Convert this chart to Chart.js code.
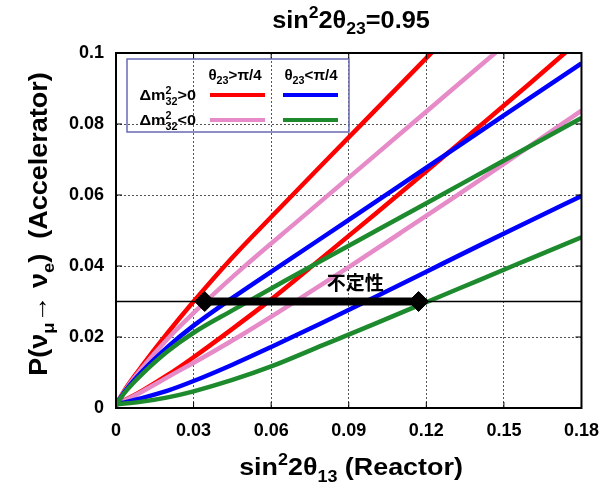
<!DOCTYPE html>
<html>
<head>
<meta charset="utf-8">
<script src="https://cdn.jsdelivr.net/npm/chart.js@4.4.1/dist/chart.umd.min.js"></script>
<style>
  html, body { margin: 0; padding: 0; background: #fff; }
  canvas { display: block; }
</style>
</head>
<body>
<canvas id="chart" width="611" height="486"></canvas>
<script>
// tick labels
const xTickLabels = ["0", "0.03", "0.06", "0.09", "0.12", "0.15", "0.18"];
const yTickLabels = ["0", "0.02", "0.04", "0.06", "0.08", "0.1"];

// dm2>0, theta23>pi/4 (red)
const redUpX = [0, 0.004, 0.01, 0.02, 0.03, 0.045, 0.06, 0.08, 0.1, 0.125];
const redUpY = [0.001, 0.0058, 0.0118, 0.0212, 0.03, 0.0424, 0.0538, 0.0688, 0.0837, 0.1023];
const redLowX = [0, 0.005, 0.01, 0.02, 0.03, 0.045, 0.06, 0.08, 0.1, 0.12, 0.14, 0.16, 0.174];
const redLowY = [0.001, 0.0028, 0.0048, 0.0093, 0.0143, 0.0223, 0.0306, 0.0425, 0.0545, 0.0667, 0.079, 0.0914, 0.1003];

// dm2<0, theta23>pi/4 (pink)
const pinkUpX = [0, 0.004, 0.01, 0.02, 0.035, 0.05, 0.07, 0.09, 0.11, 0.13, 0.15];
const pinkUpY = [0.001, 0.0055, 0.0112, 0.0195, 0.0302, 0.0401, 0.0525, 0.0649, 0.0773, 0.0897, 0.1021];
const pinkLowX = [0, 0.005, 0.01, 0.02, 0.035, 0.05, 0.07, 0.09, 0.11, 0.13, 0.15, 0.18];
const pinkLowY = [0.001, 0.0027, 0.0046, 0.0087, 0.0148, 0.0212, 0.0303, 0.0397, 0.0493, 0.059, 0.0688, 0.0838];

// dm2>0, theta23<pi/4 (blue)
const blueUpX = [0, 0.004, 0.01, 0.02, 0.03, 0.045, 0.065, 0.09, 0.12, 0.15, 0.18];
const blueUpY = [0.001, 0.0052, 0.0102, 0.0172, 0.0232, 0.031, 0.0408, 0.053, 0.0677, 0.0824, 0.0971];
const blueLowX = [0, 0.01, 0.02, 0.03, 0.045, 0.06, 0.08, 0.1, 0.12, 0.14, 0.16, 0.18];
const blueLowY = [0.001, 0.0028, 0.0049, 0.0076, 0.0122, 0.0172, 0.0241, 0.0312, 0.0384, 0.0456, 0.0527, 0.0597];

// dm2<0, theta23<pi/4 (green)
const greenUpX = [0, 0.004, 0.01, 0.02, 0.03, 0.045, 0.065, 0.09, 0.12, 0.15, 0.18];
const greenUpY = [0.001, 0.0049, 0.0095, 0.016, 0.0212, 0.0275, 0.0357, 0.0457, 0.0577, 0.0697, 0.0817];
const greenLowX = [0, 0.01, 0.02, 0.03, 0.045, 0.06, 0.08, 0.1, 0.12, 0.14, 0.16, 0.18];
const greenLowY = [0.001, 0.0018, 0.003, 0.0047, 0.0079, 0.0117, 0.0177, 0.0237, 0.0298, 0.0359, 0.042, 0.0481];

// uncertainty arrow + reference line
const arrowX = [0.0343, 0.117];
const arrowY = [0.03, 0.03];
const refLineX = [0, 0.18];
const refLineY = [0.03, 0.03];
const noteText = "不定性";
const noteX = 0.0925;
const noteY = 0.0352;

const FONT = '"Liberation Sans", Arial, sans-serif';
const RED = "#ff0000", PINK = "#e68ac8", BLUE = "#0000ff", GREEN = "#1e8a2e";

function toPoints(xs, ys) {
    return xs.map((x, i) => ({ x: x, y: ys[i] }));
}

function curve(xs, ys, color, order) {
    return {
        data: toPoints(xs, ys),
        borderColor: color,
        borderWidth: 4.5,
        pointRadius: 0,
        cubicInterpolationMode: "monotone",
        order: order
    };
}

// parts: [text, kind] kind: "n" normal, "sup", "sub", "ss" (sup over sub, text "a|b")
function richWidth(ctx, parts, size) {
    let w = 0;
    parts.forEach(([t, k]) => {
        if (k === "n") {
            ctx.font = "bold " + size + "px " + FONT;
            w += ctx.measureText(t).width;
        } else {
            ctx.font = "bold " + Math.round(size * 0.68) + "px " + FONT;
            if (k === "ss") {
                const [a, b] = t.split("|");
                w += Math.max(ctx.measureText(a).width, ctx.measureText(b).width);
            } else {
                w += ctx.measureText(t).width;
            }
        }
    });
    return w;
}

function drawRich(ctx, parts, x, y, size, align, sx) {
    sx = sx || 1;
    const total = richWidth(ctx, parts, size);
    let cx = align === "center" ? -total / 2 : align === "right" ? -total : 0;
    ctx.save();
    ctx.translate(x, y);
    ctx.scale(sx, 1);
    ctx.textAlign = "left";
    ctx.textBaseline = "alphabetic";
    const small = Math.round(size * 0.68);
    parts.forEach(([t, k]) => {
        if (k === "n") {
            ctx.font = "bold " + size + "px " + FONT;
            ctx.fillText(t, cx, 0);
            cx += ctx.measureText(t).width;
        } else {
            ctx.font = "bold " + small + "px " + FONT;
            if (k === "sup") {
                ctx.fillText(t, cx, -size * 0.42);
                cx += ctx.measureText(t).width;
            } else if (k === "sub") {
                ctx.fillText(t, cx, size * 0.28);
                cx += ctx.measureText(t).width;
            } else {
                const [a, b] = t.split("|");
                ctx.fillText(a, cx, -size * 0.42);
                ctx.fillText(b, cx, size * 0.3);
                cx += Math.max(ctx.measureText(a).width, ctx.measureText(b).width);
            }
        }
    });
    ctx.restore();
}

const decorPlugin = {
    id: "decor",
    afterDatasetsDraw(chart) {
        const { ctx, chartArea: a, scales } = chart;
        const xs = scales.x, ys = scales.y;
        ctx.save();

        // frame
        ctx.strokeStyle = "#000";
        ctx.lineWidth = 2;
        ctx.setLineDash([]);
        ctx.strokeRect(a.left, a.top, a.right - a.left, a.bottom - a.top);

        // inward ticks on all sides
        ctx.lineWidth = 1;
        xTickLabels.forEach((_, i) => {
            const px = xs.getPixelForValue(i * 0.03);
            ctx.beginPath();
            ctx.moveTo(px, a.bottom); ctx.lineTo(px, a.bottom - 6);
            ctx.moveTo(px, a.top); ctx.lineTo(px, a.top + 6);
            ctx.stroke();
        });
        yTickLabels.forEach((_, i) => {
            const py = ys.getPixelForValue(i * 0.02);
            ctx.beginPath();
            ctx.moveTo(a.left, py); ctx.lineTo(a.left + 6, py);
            ctx.moveTo(a.right, py); ctx.lineTo(a.right - 6, py);
            ctx.stroke();
        });

        // note
        ctx.fillStyle = "#000";
        ctx.font = 'bold 19px "Noto Sans CJK JP", sans-serif';
        ctx.textAlign = "center";
        ctx.textBaseline = "middle";
        ctx.fillText(noteText, xs.getPixelForValue(noteX), ys.getPixelForValue(noteY));

        // legend box
        ctx.strokeStyle = "#6a6ab4";
        ctx.lineWidth = 1.5;
        ctx.strokeRect(127, 59, 222, 73);
        ctx.fillStyle = "#000";
        drawRich(ctx, [["θ", "n"], ["23", "sub"], [">π/4", "n"]], 235, 80, 14, "center", 1.08);
        drawRich(ctx, [["θ", "n"], ["23", "sub"], ["<π/4", "n"]], 311, 80, 14, "center", 1.08);
        drawRich(ctx, [["Δm", "n"], ["2|32", "ss"], [">0", "n"]], 196, 100, 15, "right", 1.08);
        drawRich(ctx, [["Δm", "n"], ["2|32", "ss"], ["<0", "n"]], 196, 125, 15, "right", 1.08);
        const samples = [[RED, 210, 95], [BLUE, 283, 95], [PINK, 210, 120], [GREEN, 283, 120]];
        ctx.lineWidth = 4;
        samples.forEach(([c, x0, y0]) => {
            ctx.strokeStyle = c;
            ctx.beginPath();
            ctx.moveTo(x0, y0);
            ctx.lineTo(x0 + 55, y0);
            ctx.stroke();
        });

        ctx.restore();
    },
    afterDraw(chart) {
        const { ctx } = chart;
        ctx.save();
        ctx.fillStyle = "#000";
        // title
        drawRich(ctx, [["sin", "n"], ["2", "sup"], ["2θ", "n"], ["23", "sub"], ["=0.95", "n"]], 351, 28, 23, "center", 1.1);
        // x title
        drawRich(ctx, [["sin", "n"], ["2", "sup"], ["2θ", "n"], ["13", "sub"], [" (Reactor)", "n"]], 351, 475, 24, "center", 1.12);
        // y title
        ctx.translate(47, 224);
        ctx.rotate(-Math.PI / 2);
        drawRich(ctx, [["P(ν", "n"], ["μ", "sub"], ["→ ν", "n"], ["e", "sub"], [")  (Accelerator)", "n"]], 0, 0, 25, "center", 1.08);
        ctx.restore();
    }
};

new Chart(document.getElementById("chart").getContext("2d"), {
    type: "line",
    data: {
        datasets: [
            {
                data: toPoints(arrowX, arrowY),
                borderColor: "#000",
                backgroundColor: "#000",
                borderWidth: 8,
                pointStyle: "rectRot",
                pointRadius: 10,
                pointBorderWidth: 1,
                order: 0
            },
            {
                data: toPoints(refLineX, refLineY),
                borderColor: "#000",
                borderWidth: 1.5,
                pointRadius: 0,
                order: 1
            },
            curve(greenUpX, greenUpY, GREEN, 2),
            curve(greenLowX, greenLowY, GREEN, 2),
            curve(blueUpX, blueUpY, BLUE, 3),
            curve(blueLowX, blueLowY, BLUE, 3),
            curve(pinkUpX, pinkUpY, PINK, 4),
            curve(pinkLowX, pinkLowY, PINK, 4),
            curve(redUpX, redUpY, RED, 5),
            curve(redLowX, redLowY, RED, 5)
        ]
    },
    options: {
        responsive: false,
        animation: false,
        layout: { padding: { top: 53, right: 25, left: 0, bottom: 0 } },
        plugins: {
            legend: { display: false },
            tooltip: { enabled: false },
            title: { display: false }
        },
        scales: {
            x: {
                type: "linear",
                min: 0,
                max: 0.18,
                afterFit: s => { s.height = 78; },
                afterBuildTicks: s => { s.ticks = xTickLabels.map((_, i) => ({ value: i * 0.03 })); },
                ticks: {
                    padding: 12,
                    color: "#000",
                    font: { family: FONT, size: 18, weight: "bold" },
                    maxRotation: 0,
                    callback: (v, i) => xTickLabels[i]
                },
                grid: { color: "#555", lineWidth: 1, drawTicks: false },
                border: { display: false, dash: [2, 2] }
            },
            y: {
                type: "linear",
                min: 0,
                max: 0.1,
                afterFit: s => { s.width = 116; },
                afterBuildTicks: s => { s.ticks = yTickLabels.map((_, i) => ({ value: i * 0.02 })); },
                ticks: {
                    padding: 12,
                    color: "#000",
                    font: { family: FONT, size: 18, weight: "bold" },
                    callback: (v, i) => yTickLabels[i]
                },
                grid: { color: "#555", lineWidth: 1, drawTicks: false },
                border: { display: false, dash: [2, 2] }
            }
        }
    },
    plugins: [decorPlugin]
});
</script>
</body>
</html>
